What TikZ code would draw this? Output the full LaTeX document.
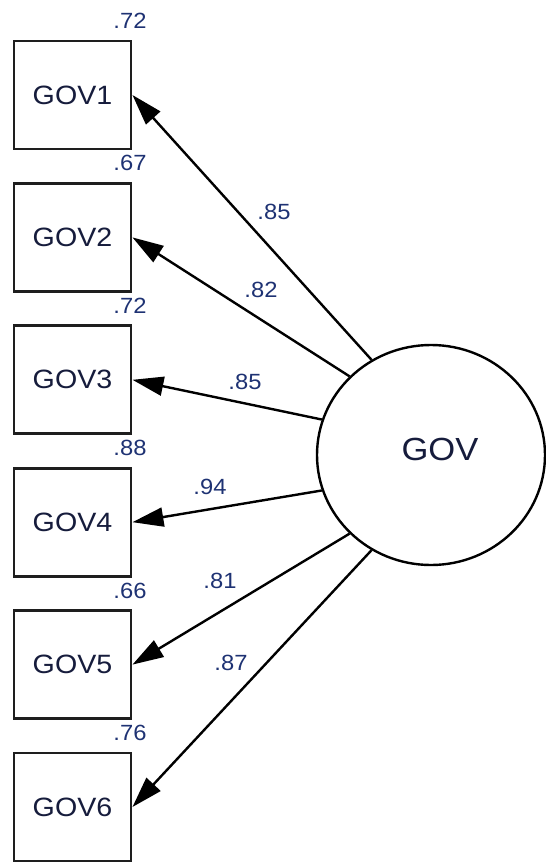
\documentclass[tikz,border=0pt]{standalone}
\usepackage{fontspec}
\setmainfont{Liberation Sans}[FakeStretch=1.08]
\usetikzlibrary{arrows.meta,shapes.geometric}
\definecolor{inkline}{RGB}{30,30,30}
\definecolor{obstext}{RGB}{22,28,60}
\definecolor{coeftext}{RGB}{30,50,115}
\begin{document}
\begin{tikzpicture}[x=1pt,y=-1pt,
  observed/.style={draw=inkline, line width=2.9pt, fill=white,
    minimum width=117pt, minimum height=108pt, inner sep=0pt,
    text=obstext, font=\fontsize{26.5}{30}\selectfont},
  latent/.style={ellipse, draw=black, line width=2.4pt, fill=white,
    minimum width=228pt, minimum height=220pt, inner sep=0pt},
  latenttext/.style={text=obstext, inner sep=0pt, font=\fontsize{32}{36}\selectfont},
  coef/.style={text=coeftext, inner sep=0pt, font=\fontsize{22}{24}\selectfont},
  loading/.style={draw=black, line width=2.4pt, -{Triangle[length=31pt,width=19pt]}}
]
\useasboundingbox (0,0) rectangle (546,862);

% observed indicators
\node[observed] (g1) at (72.5,95)    {GOV1};
\node[observed] (g2) at (72.5,237.4) {GOV2};
\node[observed] (g3) at (72.5,379.8) {GOV3};
\node[observed] (g4) at (72.5,522.2) {GOV4};
\node[observed] (g5) at (72.5,664.6) {GOV5};
\node[observed] (g6) at (72.5,807)   {GOV6};

% squared multiple correlations
\node[coef] (r1) at (130,21)  {.72};
\node[coef] (r2) at (130,163) {.67};
\node[coef] (r3) at (130,306) {.72};
\node[coef] (r4) at (130,448) {.88};
\node[coef] (r5) at (130,591) {.66};
\node[coef] (r6) at (130,733) {.76};

% latent factor
\node[latent] (gov) at (431,455) {};
\node[latenttext] (govname) at (440,449) {GOV};

% standardized loadings
\draw[loading] (gov.122) -- (g1.east);
\draw[loading] (gov.136) -- (g2.east);
\draw[loading] (gov.162) -- (g3.east);
\draw[loading] (gov.198) -- (g4.east);
\draw[loading] (gov.224) -- (g5.east);
\draw[loading] (gov.238) -- (g6.east);

\node[coef] (l1) at (274,212) {.85};
\node[coef] (l2) at (261,290) {.82};
\node[coef] (l3) at (245,382) {.85};
\node[coef] (l4) at (210,487) {.94};
\node[coef] (l5) at (220,581) {.81};
\node[coef] (l6) at (231,663) {.87};
\end{tikzpicture}
\end{document}
